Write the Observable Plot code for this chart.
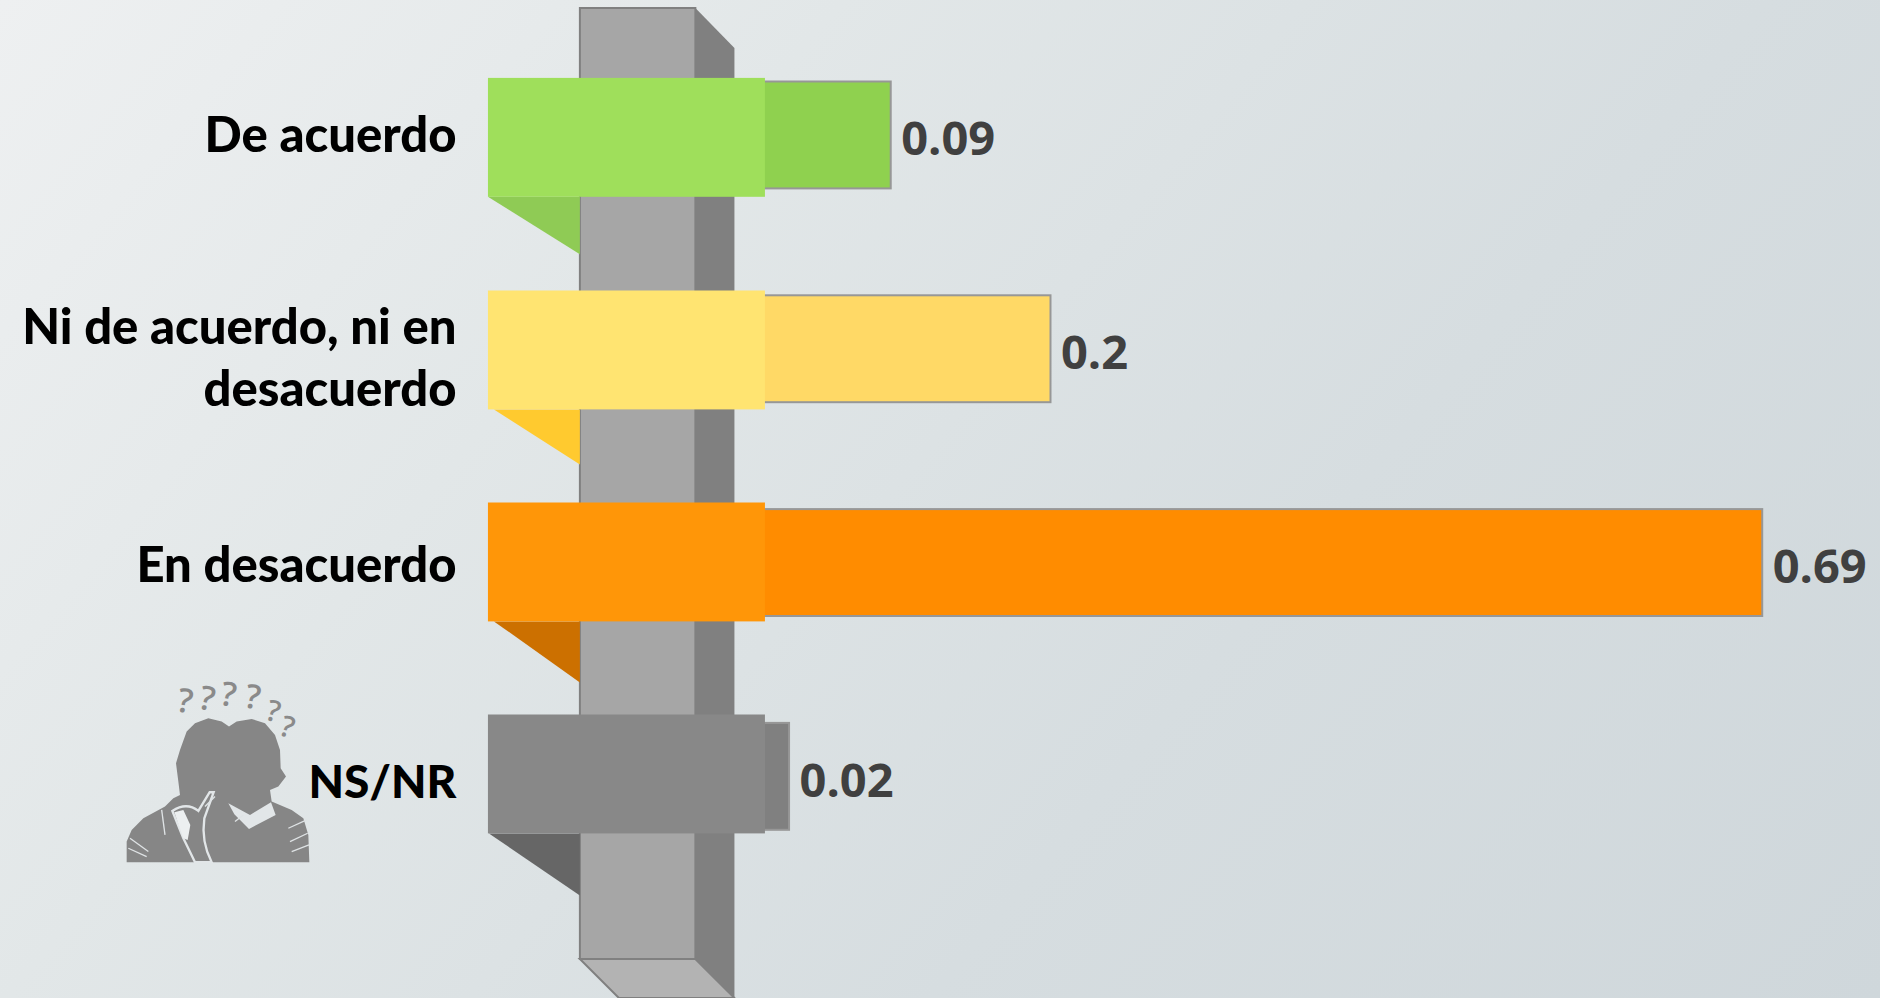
<!DOCTYPE html>
<html><head><meta charset="utf-8">
<script src="https://cdn.jsdelivr.net/npm/d3@7"></script>
<script src="https://cdn.jsdelivr.net/npm/@observablehq/plot@0.6"></script>
<style>
html,body{margin:0;padding:0;overflow:hidden;width:1880px;height:998px;background:linear-gradient(130deg,#eef0f1 0%,#e2e7e8 31%,#d6dde0 65%,#cfd7db 100%);}
svg{display:block;background:transparent!important;}
</style></head><body><div id="c"></div>
<script>
const categories = ["De acuerdo","Ni de acuerdo, ni en\ndesacuerdo","En desacuerdo","NS/NR"];
const values = [0.09,0.2,0.69,0.02];
const valueLabels = ["0.09","0.2","0.69","0.02"];
const barColors = ["#8fd14f","#ffd966","#ff8c00","#808080"];
const bandColors = ["#9fdf5b","#ffe471","#ff9608","#888888"];
const foldColors = ["#8fcb55","#ffca2f","#cc7000","#666666"];
const bandShift = [2.4,1.2,-0.6,-2.4];
const foldDepth = [57.5,55,61,62];
const foldInset = [0,6,6,1];
const labelShift = [-3,6,-1,3];
const labelSize = [49,49,49,46];
const rows = categories.map((c,i)=>({c,v:values[i],l:valueLabels[i],bar:barColors[i],band:bandColors[i],fold:foldColors[i]}));

const el = (n,a)=>{const e=document.createElementNS("http://www.w3.org/2000/svg",n);for(const k in a)e.setAttribute(k,a[k]);return e;};
const poly = (g,pts,fill,stroke)=>g.appendChild(el("polygon",{points:pts.map(p=>p.join(",")).join(" "),fill,stroke:stroke||"none","stroke-width":stroke?2:0}));

function pillar(_, {x}){
  const g = el("g",{});
  const a=x(-0.1240), b=x(-0.0445), c=x(-0.0176);
  poly(g,[[b,8],[c,48],[c,998],[b,959]],"#808080");
  poly(g,[[a,959],[b,959],[c,998],[a+39,998]],"#b3b3b3","#808080");
  poly(g,[[a,8],[b,8],[b,959],[a,959]],"#a6a6a6","#808080");
  return g;
}
function folds(_, {x,y}){
  const g = el("g",{});
  const a=x(-0.1873), b=x(-0.1240);
  rows.forEach((r,i)=>{
    const bottom=y(r.c)+y.bandwidth()+6+bandShift[i];
    poly(g,[[a+foldInset[i],bottom],[b,bottom],[b,bottom+foldDepth[i]]],r.fold);
  });
  return g;
}
const marks_q = [[205,112,10,100],[270,105,12,100],[335,93,10,100],[408,100,10,100],[468,138,15,88],[508,185,18,88]];
function figures(_, {y}){
  const g = el("g",{transform:`translate(115,${y("NS/NR")-48}) scale(${1/3})`,fill:"#868686"});
  g.appendChild(el("path",{d:"M35 562 L35 500 L50 465 L85 430 L150 395 L175 370 L195 360 L190 320 L183 265 L195 225 L215 170 L240 145 L280 130 L320 140 L342 155 L365 140 L410 132 L450 145 L480 180 L495 225 L497 280 L513 305 L490 335 L465 345 L470 380 L530 405 L565 430 L580 480 L583 562 Z"}));
  g.appendChild(el("path",{d:"M340 385 L405 420 L468 382 L482 420 L402 462 L358 418 Z",fill:"#e2e6e8"}));
  g.appendChild(el("path",{d:"M172 408 Q215 380 250 408 L284 352 L296 352 L268 430 Q258 500 290 562 L240 562 Q215 510 205 490 Z",fill:"#868686",stroke:"#e2e6e8","stroke-width":7}));
  g.appendChild(el("path",{d:"M178 412 L205 405 L226 450 L218 495 L205 490 Z",fill:"#eceff0"}));
  const creases=["M40 520 L95 545","M45 490 L100 530","M140 405 L150 480","M520 460 L575 435","M525 500 L578 475","M530 530 L582 510","M360 440 L385 420","M270 395 L300 365"];
  creases.forEach(d=>g.appendChild(el("path",{d,stroke:"#dfe3e5","stroke-width":4,fill:"none"})));
  marks_q.forEach(([qx,qy,r,s])=>{
    const t=el("text",{x:qx,y:qy,"font-family":"Open Sans","font-weight":600,"font-size":s,fill:"#8a8a8a",transform:`rotate(${r} ${qx} ${qy})`});
    t.textContent="?"; g.appendChild(t);
  });
  return g;
}

const chart = Plot.plot({
  width:1880, height:998,
  marginLeft:0, marginRight:0, marginTop:0, marginBottom:0,
  style:{background:"transparent"},
  x:{domain:[-760/1452.5,(1880-760)/1452.5], range:[0,1880], axis:null},
  y:{domain:categories, range:[-25.4,936.7], padding:0.5, round:false, axis:null},
  marks:[
    pillar,
    Plot.barX(rows,{y:"c",x1:0,x2:"v",fill:"bar",stroke:"#979797",strokeWidth:2}),
    folds,
    ...rows.map((r,i)=>Plot.barX([r],{y:"c",x1:-0.1873,x2:0.0034,fill:"band",insetTop:-6+bandShift[i],insetBottom:-6-bandShift[i]})),
    ...rows.map((r,i)=>Plot.text([r],{y:"c",frameAnchor:"left",text:"c",dx:456,dy:labelShift[i],textAnchor:"end",fontFamily:"Lato",fontWeight:900,fontSize:labelSize[i],lineHeight:1.26,fill:"#000"})),
    Plot.text(rows,{y:"c",x:"v",text:"l",dx:10,dy:5,textAnchor:"start",fontFamily:"Open Sans",fontWeight:700,fontSize:47,fill:"#404040"}),
    figures
  ]
});
document.getElementById("c").appendChild(chart);
</script></body></html>
